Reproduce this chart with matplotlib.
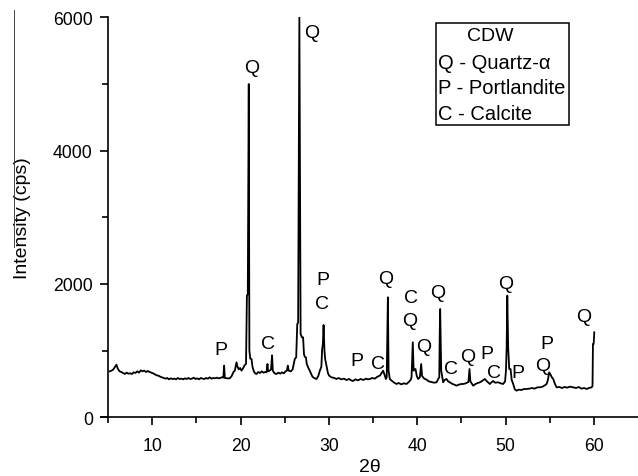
'''
CDW XRD pattern
2theta vs intensity with phase labels
'''
import matplotlib
matplotlib.use('Agg')
import matplotlib.pyplot as plt
from matplotlib.patches import Rectangle
from matplotlib.lines import Line2D

# diffractogram (2theta in degrees, intensity in cps)
two_theta = [
    5.2, 5.4, 5.6, 5.8, 5.95, 6.1, 6.3, 6.5, 6.7, 6.9, 7.1, 7.3, 7.5, 7.7, 7.9,
    8.1, 8.3, 8.5, 8.7, 8.9, 9.1, 9.3, 9.5, 9.7, 9.9, 10.1, 10.3, 10.5, 10.7,
    10.9, 11.1, 11.3, 11.5, 11.7, 11.9, 12.1, 12.3, 12.5, 12.7, 12.9, 13.1,
    13.3, 13.5, 13.7, 13.9, 14.1, 14.3, 14.5, 14.7, 14.9, 15.1, 15.3, 15.5,
    15.7, 15.9, 16.1, 16.3, 16.5, 16.7, 16.9, 17.1, 17.3, 17.5, 17.7, 17.9,
    18.05, 18.14, 18.22, 18.5, 18.78, 19.0, 19.2, 19.35, 19.54, 19.65, 19.8,
    19.95, 20.11, 20.3, 20.48, 20.62, 20.72, 20.82, 20.93, 21.0, 21.1, 21.24,
    21.35, 21.5, 21.65, 21.81, 22.0, 22.2, 22.4, 22.6, 22.8, 22.94, 23.05,
    23.12, 23.3, 23.45, 23.57, 23.65, 23.85, 24.07, 24.3, 24.5, 24.7, 24.9,
    25.1, 25.25, 25.35, 25.45, 25.7, 25.9, 26.14, 26.3, 26.42, 26.52, 26.66,
    26.8, 26.95, 27.08, 27.18, 27.28, 27.4, 27.5, 27.65, 27.9, 28.1, 28.22,
    28.4, 28.6, 28.8, 28.98, 29.15, 29.24, 29.32, 29.4, 29.5, 29.58, 29.75,
    29.9, 30.03, 30.3, 30.6, 30.87, 31.1, 31.4, 31.7, 32.0, 32.3, 32.5, 32.75,
    33.0, 33.3, 33.6, 33.9, 34.2, 34.4, 34.64, 34.9, 35.2, 35.5, 35.77, 35.95,
    36.14, 36.3, 36.45, 36.55, 36.62, 36.68, 36.76, 36.9, 37.1, 37.4, 37.66,
    37.9, 38.2, 38.5, 38.79, 39.05, 39.25, 39.36, 39.5, 39.6, 39.81, 39.95,
    40.11, 40.3, 40.45, 40.55, 40.8, 41.06, 41.3, 41.6, 41.9, 42.19, 42.4,
    42.5, 42.55, 42.6, 42.72, 42.94, 43.1, 43.32, 43.5, 43.7, 44.0, 44.2,
    44.46, 44.7, 45.0, 45.2, 45.5, 45.8, 45.92, 46.02, 46.34, 46.6, 46.85,
    47.1, 47.4, 47.66, 47.9, 48.23, 48.45, 48.6, 48.8, 49.17, 49.45, 49.73,
    49.95, 50.05, 50.13, 50.2, 50.3, 50.42, 50.57, 50.7, 50.87, 51.05, 51.25,
    51.5, 51.8, 52.1, 52.38, 52.7, 53.0, 53.3, 53.6, 53.89, 54.2, 54.45,
    54.65, 54.8, 54.94, 55.1, 55.25, 55.4, 55.6, 55.78, 56.1, 56.4, 56.7,
    57.0, 57.3, 57.66, 58.0, 58.3, 58.6, 58.9, 59.18, 59.45, 59.75, 59.85,
    59.9, 59.98, 60.05,
]
intensity = [
    690, 700, 720, 760, 790, 730, 690, 680, 665, 650, 670, 655, 660, 650, 675,
    665, 690, 670, 705, 690, 700, 680, 695, 680, 670, 660, 645, 630, 625,
    610, 600, 590, 580, 590, 570, 585, 575, 580, 570, 590, 575,
    580, 570, 585, 575, 590, 575, 580, 595, 575, 585, 570, 590,
    580, 575, 590, 580, 600, 580, 590, 585, 595, 585, 590, 600,
    595, 775, 590, 585, 585, 620, 680, 700, 825, 760, 720,
    740, 700, 740, 785, 800, 1825, 1850, 5000, 1000, 880, 875,
    760, 690, 660, 650, 680, 665, 690, 670, 680, 675, 800,
    690, 700, 720, 930, 700, 660, 650, 670, 655, 675, 660,
    690, 700, 775, 700, 690, 720, 875, 900, 1400, 1420, 6000,
    1250, 1200, 1200, 950, 905, 900, 800, 750, 680, 620, 600,
    585, 575, 620, 700, 760, 1025, 1100, 1385, 1000, 875, 760,
    660, 625, 600, 590, 575, 590, 570, 580, 560, 575, 555, 545,
    570, 555, 575, 560, 580, 570, 575, 590, 580, 610, 625, 660,
    700, 640, 575, 600, 1200, 1800, 700, 575, 550, 520, 500,
    515, 495, 510, 500, 530, 560, 600, 1125, 700, 725, 620,
    575, 600, 800, 620, 580, 565, 540, 530, 520, 525, 580,
    600, 1250, 1625, 700, 525, 560, 575, 540, 525, 500, 490,
    475, 490, 500, 500, 510, 530, 725, 540, 475, 500, 515,
    525, 550, 575, 540, 500, 530, 545, 520, 525, 510, 500,
    540, 700, 1050, 1825, 1050, 725, 725, 560, 500, 420, 400,
    415, 410, 425, 425, 430, 440, 430, 450, 450, 460, 480,
    500, 560, 675, 640, 600, 575, 500, 450, 455, 440, 455,
    445, 460, 450, 440, 455, 430, 440, 425, 440, 450, 470,
    1100, 1100, 1275,
]

# phase letters above the reflections
peak_labels = ['P', 'C', 'Q', 'Q', 'P', 'C', 'P', 'C', 'Q', 'C', 'Q', 'Q',
               'Q', 'C', 'Q', 'P', 'C', 'Q', 'P', 'P', 'Q', 'Q']
label_x = [17.73, 23.09, 21.24, 28.10, 29.28, 29.17, 33.13, 35.51, 36.45,
           39.28, 39.17, 40.79, 42.37, 43.81, 45.77, 47.92, 48.68, 50.01,
           51.36, 54.65, 54.26, 58.87]
label_y = [1020, 1105, 5250, 5775, 2065, 1700, 850, 800, 2075, 1800, 1450,
           1065, 1865, 725, 915, 950, 675, 2000, 675, 1100, 775, 1515]

legend_title = 'CDW'
legend_lines = ['Q - Quartz-\u03b1', 'P - Portlandite', 'C - Calcite']

plt.rcParams['font.family'] = ['Liberation Sans', 'DejaVu Sans']

fig = plt.figure(figsize=(6.38, 4.77), dpi=100)
ax = fig.add_axes([0.159, 0.123, 0.841, 0.8386])

ax.plot(two_theta, intensity, color='black', linewidth=1.3)

for t, x, y in zip(peak_labels, label_x, label_y):
    ax.text(x, y, t, ha='center', va='center', fontsize=14)

ax.set_xlim(4.25, 65)
ax.set_ylim(0, 6000)
ax.set_xticks([10, 20, 30, 40, 50, 60])
ax.set_xticks([5, 15, 25, 35, 45, 55], minor=True)
ax.set_yticks([0, 2000, 4000, 6000])
ax.set_yticks([1000, 3000, 5000], minor=True)
ax.spines['top'].set_visible(False)
ax.spines['right'].set_visible(False)
ax.spines['left'].set_position(('data', 5))
ax.spines['left'].set_linewidth(1.2)
ax.spines['bottom'].set_linewidth(1.2)
ax.tick_params(which='major', direction='out', length=6, width=1.2,
               labelsize=12.7)
ax.tick_params(which='minor', direction='out', length=4.5, width=1.2)
ax.tick_params(axis='x', which='major', pad=8)
ax.tick_params(axis='y', which='major', pad=5)
ax.set_xlabel('2\u03b8', fontsize=14, labelpad=3)
ax.set_ylabel('Intensity (cps)', fontsize=14, labelpad=16)

# legend box drawn by hand in figure coordinates
fig.add_artist(Rectangle((0.683, 0.736), 0.209, 0.214, transform=fig.transFigure,
                         fill=False, edgecolor='black', linewidth=1.1))
fig.text(0.768, 0.923, legend_title, ha='center', va='center', fontsize=14)
for i, line in enumerate(legend_lines):
    fig.text(0.687, 0.867 - i * 0.0535, line, ha='left', va='center',
             fontsize=14.5)

# thin scan line next to the y label
fig.add_artist(Line2D([0.022, 0.022], [0.977, 0.48], transform=fig.transFigure,
                      color='#444444', linewidth=0.7))

fig.savefig('out.png', dpi=100)
